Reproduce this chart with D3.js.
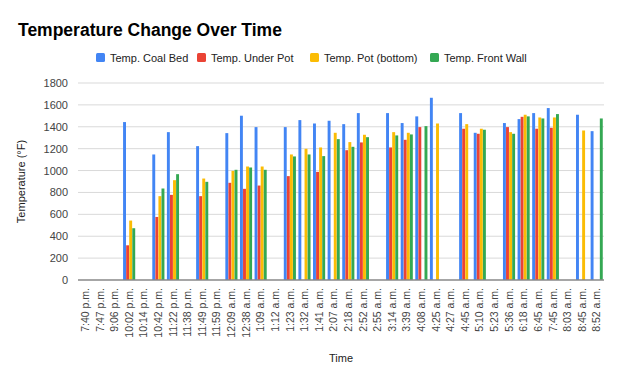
<!DOCTYPE html>
<html>
<head>
<meta charset="utf-8">
<script src="https://cdn.jsdelivr.net/npm/d3@7"></script>
<style>
  body { margin: 0; background: #fff; }
  svg { font-family: "Liberation Sans", Arial, sans-serif; }
</style>
</head>
<body>
<div id="chart"></div>
<script>
// Zeitpunkte der Messungen
var times = ["7:40 p.m.", "7:47 p.m.", "9:06 p.m.", "10:02 p.m.", "10:14 p.m.", "10:42 p.m.",
  "11:22 p.m.", "11:38 p.m.", "11:49 p.m.", "11:59 p.m.", "12:09 a.m.", "12:38 a.m.",
  "1:09 a.m.", "1:12 a.m.", "1:23 a.m.", "1:32 a.m.", "1:41 a.m.", "2:07 a.m.",
  "2:18 a.m.", "2:52 a.m.", "2:55 a.m.", "3:14 a.m.", "3:39 a.m.", "4:08 a.m.",
  "4:25 a.m.", "4:27 a.m.", "4:45 a.m.", "5:10 a.m.", "5:23 a.m.", "5:36 a.m.",
  "6:18 a.m.", "6:45 a.m.", "7:45 a.m.", "8:03 a.m.", "8:45 a.m.", "8:52 a.m."];

// Messwerte (null = kein Wert)
var coalBed = [null, null, null, 1443, null, 1147, 1351, null, 1223, null, 1342, 1501,
  1397, null, 1397, 1461, 1430, 1455, 1424, 1525, null, 1525, 1434, 1495,
  1665, null, 1525, 1345, null, 1434, 1470, 1525, 1571, null, 1510, 1360];
var underPot = [null, null, null, 317, null, 576, 778, null, 766, null, 888, 833,
  863, null, 949, null, 988, null, 1186, 1257, null, 1211, 1281, 1397,
  null, null, 1382, 1336, null, 1397, 1491, 1382, 1391, null, null, null];
var potBottom = [null, null, null, 543, null, 766, 912, null, 927, null, 997, 1037,
  1037, null, 1147, 1199, 1211, 1345, 1260, 1327, null, 1351, 1345, null,
  1430, null, 1424, 1382, null, 1351, 1510, 1485, 1485, null, 1366, null];
var frontWall = [null, null, null, 473, null, 836, 967, null, 897, null, 1007, 1028,
  1007, null, 1129, 1147, 1132, 1287, 1217, 1305, null, 1321, 1330, 1406,
  null, null, null, 1373, null, 1336, 1495, 1476, 1516, null, null, 1476];

var seriesNames = ["Temp. Coal Bed", "Temp. Under Pot", "Temp. Pot (bottom)", "Temp. Front Wall"];
var seriesColors = ["#4285F4", "#EA4335", "#FBBC04", "#34A853"];
var yTicks = [0, 200, 400, 600, 800, 1000, 1200, 1400, 1600, 1800];

var series = [coalBed, underPot, potBottom, frontWall];

var W = 624, H = 385;
var margin = { top: 83, right: 20, bottom: 105, left: 78 };
var width = W - margin.left - margin.right;
var height = H - margin.top - margin.bottom;

var svg = d3.select("#chart").append("svg")
  .attr("width", W)
  .attr("height", H);

// Titel
svg.append("text")
  .attr("x", 18)
  .attr("y", 36)
  .style("font-size", "17.5px")
  .style("font-weight", "bold")
  .style("fill", "#000")
  .text("Temperature Change Over Time");

// Legende
var legendX = [96, 197, 310, 430];
var legend = svg.append("g").attr("class", "legend");
seriesNames.forEach(function (name, i) {
  legend.append("rect")
    .attr("x", legendX[i])
    .attr("y", 53)
    .attr("width", 9)
    .attr("height", 9)
    .attr("rx", 1.5)
    .style("fill", seriesColors[i]);
  legend.append("text")
    .attr("x", legendX[i] + 14)
    .attr("y", 61.5)
    .style("font-size", "11px")
    .style("fill", "#222")
    .text(name);
});

var chart = svg.append("g")
  .attr("transform", "translate(" + margin.left + "," + margin.top + ")");

var x = d3.scaleBand()
  .domain(times)
  .range([0, width])
  .paddingInner(0.17)
  .paddingOuter(0.085);

var xSub = d3.scaleBand()
  .domain(d3.range(series.length))
  .range([0, x.bandwidth()])
  .paddingInner(0.05);

var y = d3.scaleLinear()
  .domain([0, 1800])
  .range([height, 0]);

// Gitterlinien
chart.append("g")
  .selectAll("line")
  .data(yTicks.filter(function (d) { return d !== 0; }))
  .enter().append("line")
  .attr("x1", 0)
  .attr("x2", width)
  .attr("y1", function (d) { return y(d); })
  .attr("y2", function (d) { return y(d); })
  .style("stroke", "#d9d9d9")
  .style("stroke-width", 1);

// y-Achse
var yAxis = d3.axisLeft(y).tickValues(yTicks).tickFormat(d3.format("d")).tickSize(0).tickPadding(10);
chart.append("g")
  .attr("class", "y axis")
  .call(yAxis)
  .call(function (g) { g.select(".domain").remove(); })
  .selectAll("text")
  .style("font-size", "11px")
  .style("fill", "#444");

// Balken
series.forEach(function (vals, si) {
  chart.append("g")
    .selectAll("rect")
    .data(times.map(function (t, i) { return { time: t, value: vals[i] }; })
      .filter(function (d) { return d.value !== null; }))
    .enter().append("rect")
    .attr("x", function (d) { return x(d.time) + xSub(si); })
    .attr("width", xSub.bandwidth())
    .attr("y", function (d) { return y(d.value); })
    .attr("height", function (d) { return height - y(d.value); })
    .style("fill", seriesColors[si]);
});

// Grundlinie
chart.append("line")
  .attr("x1", 0)
  .attr("x2", width)
  .attr("y1", y(0))
  .attr("y2", y(0))
  .style("stroke", "#888")
  .style("stroke-width", 1.5);

// x-Achse
var xAxis = d3.axisBottom(x).tickSize(0).tickPadding(0);
var xg = chart.append("g")
  .attr("class", "x axis")
  .attr("transform", "translate(0," + height + ")")
  .call(xAxis);
xg.select(".domain").remove();
xg.selectAll("text")
  .attr("transform", "rotate(-90)")
  .attr("x", -8)
  .attr("y", 0)
  .attr("dy", "0.35em")
  .style("text-anchor", "end")
  .style("font-size", "10.5px")
  .style("fill", "#444");

// Achsentitel
svg.append("text")
  .attr("x", margin.left + width / 2)
  .attr("y", 362)
  .style("text-anchor", "middle")
  .style("font-size", "11px")
  .style("fill", "#222")
  .text("Time");

svg.append("text")
  .attr("transform", "translate(25," + (margin.top + height / 2) + ") rotate(-90)")
  .style("text-anchor", "middle")
  .style("font-size", "11px")
  .style("fill", "#222")
  .text("Temperature (°F)");
</script>
</body>
</html>
